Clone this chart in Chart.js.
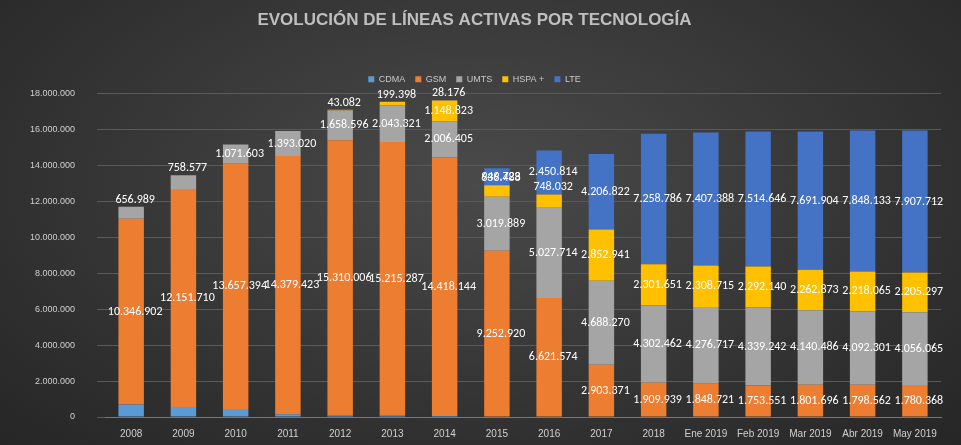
<!DOCTYPE html>
<html><head><meta charset="utf-8">
<script src="https://cdn.jsdelivr.net/npm/chart.js@4"></script>
<style>
html,body{margin:0;padding:0;}
body{width:961px;height:445px;background:radial-gradient(ellipse at 50% 40%,#4a4a4a 0%,#303030 70%,#262626 100%);font-family:Calibri,"Open Sans",sans-serif;}
#wrap{position:relative;width:961px;height:445px;}
</style></head><body>
<div id="wrap"><canvas id="c" width="961" height="445"></canvas></div>
<script>
const categorias = ["2008","2009","2010","2011","2012","2013","2014","2015","2016","2017","2018","Ene 2019","Feb 2019","Mar 2019","Abr 2019","May 2019"];
const cdma  = [700000,550000,450000,150000,100000,100000,50000,0,0,0,0,0,0,0,0,0];
const gsm   = [10346902,12151710,13657394,14379423,15310006,15215287,14418144,9252920,6621574,2903371,1909939,1848721,1753551,1801696,1798562,1780368];
const umts  = [656989,758577,1071603,1393020,1658596,2043321,2006405,3019889,5027714,4688270,4302462,4276717,4339242,4140486,4092301,4056065];
const hspa  = [0,0,0,0,43082,199398,1148823,636488,748032,2852941,2301651,2308715,2292140,2262873,2218065,2205297];
const lte   = [0,0,0,0,0,0,28176,949723,2450814,4206822,7258786,7407388,7514646,7691904,7848133,7907712];
const yTicks = [0,2000000,4000000,6000000,8000000,10000000,12000000,14000000,16000000,18000000];

const fmt = v => v.toString().replace(/\B(?=(\d{3})+(?!\d))/g, ".");

const labelsPlugin = {
  id: "segLabels",
  afterDatasetsDraw(chart) {
    const ctx = chart.ctx;
    ctx.save();
    ctx.font = "12px Calibri, 'Open Sans', sans-serif";
    ctx.fillStyle = "#ffffff";
    ctx.textAlign = "center";
    ctx.textBaseline = "middle";
    chart.data.datasets.forEach((ds, i) => {
      if (i === 0) return;
      chart.getDatasetMeta(i).data.forEach((bar, j) => {
        const v = ds.data[j];
        if (!v) return;
        let y = (bar.y + bar.base) / 2;
        if (Math.abs(bar.base - bar.y) < 14) y = bar.y - 7;
        ctx.fillText(fmt(v), bar.x + 4, y);
      });
    });
    ctx.restore();
  }
};

new Chart(document.getElementById("c"), {
  type: "bar",
  data: {
    labels: categorias,
    datasets: [
      { label: "CDMA",   data: cdma, backgroundColor: "#5b9bd5" },
      { label: "GSM",    data: gsm,  backgroundColor: "#ed7d31" },
      { label: "UMTS",   data: umts, backgroundColor: "#a5a5a5" },
      { label: "HSPA +", data: hspa, backgroundColor: "#ffc000" },
      { label: "LTE",    data: lte,  backgroundColor: "#4472c4" },
    ],
  },
  options: {
    responsive: false,
    animation: false,
    layout: { padding: { left: 8, right: 20, top: 4, bottom: 2 } },
    datasets: { bar: { categoryPercentage: 0.65, barPercentage: 0.75 } },
    scales: {
      x: { stacked: true, grid: { display: false }, border: { color: "#777" },
           ticks: { color: "#d0d0d0", font: { size: 10 } } },
      y: { stacked: true, min: 0, max: 18000000,
           afterBuildTicks: s => { s.ticks = yTicks.map(v => ({ value: v })); },
           grid: { color: "#5a5a5a" }, border: { display: false },
           ticks: { color: "#d0d0d0", font: { size: 9 }, padding: 22, callback: v => fmt(v) } },
    },
    plugins: {
      title: { display: true, text: "EVOLUCIÓN DE LÍNEAS ACTIVAS POR TECNOLOGÍA",
               color: "#bfbfbf", font: { size: 17, weight: "bold" }, padding: { top: 6, bottom: 6 } },
      legend: { position: "top", labels: { color: "#c8c8c8", boxWidth: 6, boxHeight: 6, font: { size: 9 }, padding: 10 } },
      subtitle: { display: true, text: "", padding: { bottom: 14 } },
      tooltip: { enabled: false },
    },
  },
  plugins: [labelsPlugin],
});
</script>
</body></html>
